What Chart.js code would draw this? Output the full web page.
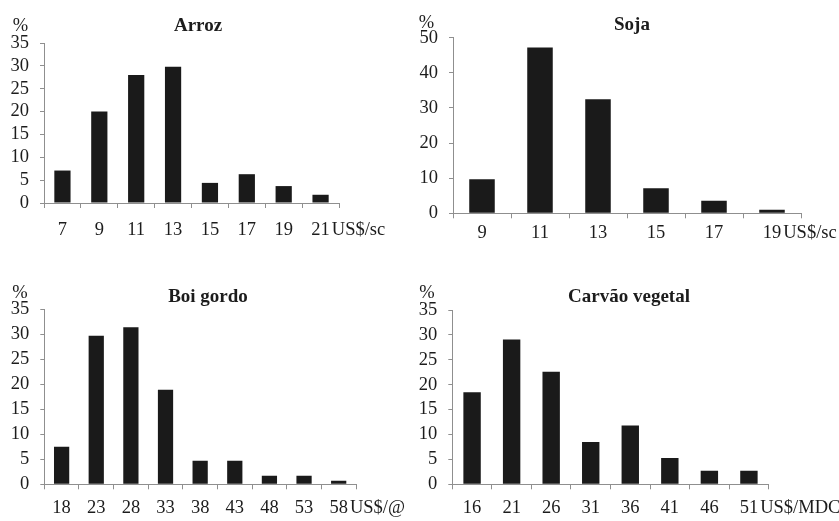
<!DOCTYPE html>
<html><head><meta charset="utf-8">
<script src="https://cdn.jsdelivr.net/npm/chart.js@4.4.0/dist/chart.umd.min.js"></script>
<style>
html,body{margin:0;padding:0;background:#fff;}
#wrap{position:relative;width:839px;height:521px;overflow:hidden;}
canvas{position:absolute;left:0;top:0;}
</style></head><body>
<div id="wrap">
<canvas id="c0" width="839" height="521"></canvas>
<canvas id="c1" width="839" height="521"></canvas>
<canvas id="c2" width="839" height="521"></canvas>
<canvas id="c3" width="839" height="521"></canvas>
</div>
<script>
// ---- data ----
const arrozLabels = ['7','9','11','13','15','17','19','21'];
const arrozValues = [7.1, 20.0, 28.0, 29.8, 4.4, 6.3, 3.7, 1.8];
const sojaLabels = ['9','11','13','15','17','19'];
const sojaValues = [9.7, 47.2, 32.5, 7.1, 3.6, 1.0];
const boiLabels = ['18','23','28','33','38','43','48','53','58'];
const boiValues = [7.5, 29.7, 31.4, 18.9, 4.7, 4.7, 1.7, 1.7, 0.7];
const carvaoLabels = ['16','21','26','31','36','41','46','51'];
const carvaoValues = [18.5, 29.1, 22.6, 8.5, 11.8, 5.3, 2.7, 2.7];
const titles = ['Arroz','Soja','Boi gordo','Carvão vegetal'];
const units = ['US$/sc','US$/sc','US$/@','US$/MDC'];
const yMaxes = [35, 50, 35, 35];
const ySteps = [5, 10, 5, 5];

// ---- layout / style ----
const W = 839, H = 521;
const TEXT = '#1c1c1c', BAR = '#1a1a1a', AXIS = '#8f8f8f';
const FONT = '"Liberation Serif", "Times New Roman", serif';
const FS = 18.5;
Chart.defaults.font.family = FONT;
Chart.defaults.font.size = FS;
Chart.defaults.color = TEXT;

const panels = [
  {area:{left:44, top:43, right:339, bottom:203}, titleX:198, titleY:31, pctX:20.5, pctY:31, xPad:10.9},
  {area:{left:453, top:37.7, right:801, bottom:213.3}, titleX:632, titleY:30, pctX:426.5, pctY:28, xPad:3.6},
  {area:{left:44.3, top:309.3, right:356, bottom:484.3}, titleX:208, titleY:302, pctX:20, pctY:298, xPad:7.6},
  {area:{left:452.3, top:310, right:768.7, bottom:484.3}, titleX:629, titleY:302, pctX:427, pctY:298, xPad:7.6}
];
const labelSets = [arrozLabels, sojaLabels, boiLabels, carvaoLabels];
const valueSets = [arrozValues, sojaValues, boiValues, carvaoValues];

const annot = {
  id: 'annot',
  afterDraw(chart, args, o) {
    const ctx = chart.ctx, a = chart.chartArea, xs = chart.scales.x;
    ctx.save();
    ctx.fillStyle = TEXT;
    ctx.font = 'bold 19px ' + FONT;
    ctx.textAlign = 'center';
    ctx.textBaseline = 'alphabetic';
    ctx.fillText(o.title, o.titleX, o.titleY);
    ctx.font = FS + 'px ' + FONT;
    ctx.fillText('%', o.pctX, o.pctY);
    const n = chart.data.labels.length;
    const last = String(chart.data.labels[n - 1]);
    const lx = xs.getPixelForValue(n - 1) + ctx.measureText(last).width / 2 + 2;
    ctx.textAlign = 'left';
    ctx.textBaseline = 'middle';
    ctx.fillText(o.unit, lx, a.bottom + 5 + o.xPad + FS * 1.2 / 2);
    ctx.restore();
  }
};

panels.forEach((p, i) => {
  new Chart(document.getElementById('c' + i), {
    type: 'bar',
    data: {
      labels: labelSets[i],
      datasets: [{
        data: valueSets[i],
        backgroundColor: BAR,
        borderWidth: 0,
        barPercentage: 0.44,
        categoryPercentage: 1.0
      }]
    },
    options: {
      responsive: false,
      animation: false,
      devicePixelRatio: 1,
      layout: { padding: { left: 0, top: p.area.top, right: W - p.area.right, bottom: 0 } },
      plugins: {
        legend: { display: false },
        tooltip: { enabled: false },
        title: { display: false },
        annot: { title: titles[i], unit: units[i], titleX: p.titleX, titleY: p.titleY, pctX: p.pctX, pctY: p.pctY, xPad: p.xPad }
      },
      scales: {
        x: {
          grid: { display: true, drawOnChartArea: false, offset: true, tickLength: 5, color: AXIS, lineWidth: 1 },
          border: { color: AXIS, width: 1 },
          ticks: { padding: p.xPad, color: TEXT, maxRotation: 0, autoSkip: false },
          afterFit(s) { s.height = H - p.area.bottom; }
        },
        y: {
          min: 0, max: yMaxes[i],
          grid: { display: true, drawOnChartArea: false, tickLength: 4, color: AXIS, lineWidth: 1 },
          border: { color: AXIS, width: 1 },
          ticks: { stepSize: ySteps[i], padding: 11, color: TEXT, autoSkip: false },
          afterFit(s) { s.width = p.area.left; }
        }
      }
    },
    plugins: [annot]
  });
});
</script>
</body></html>
